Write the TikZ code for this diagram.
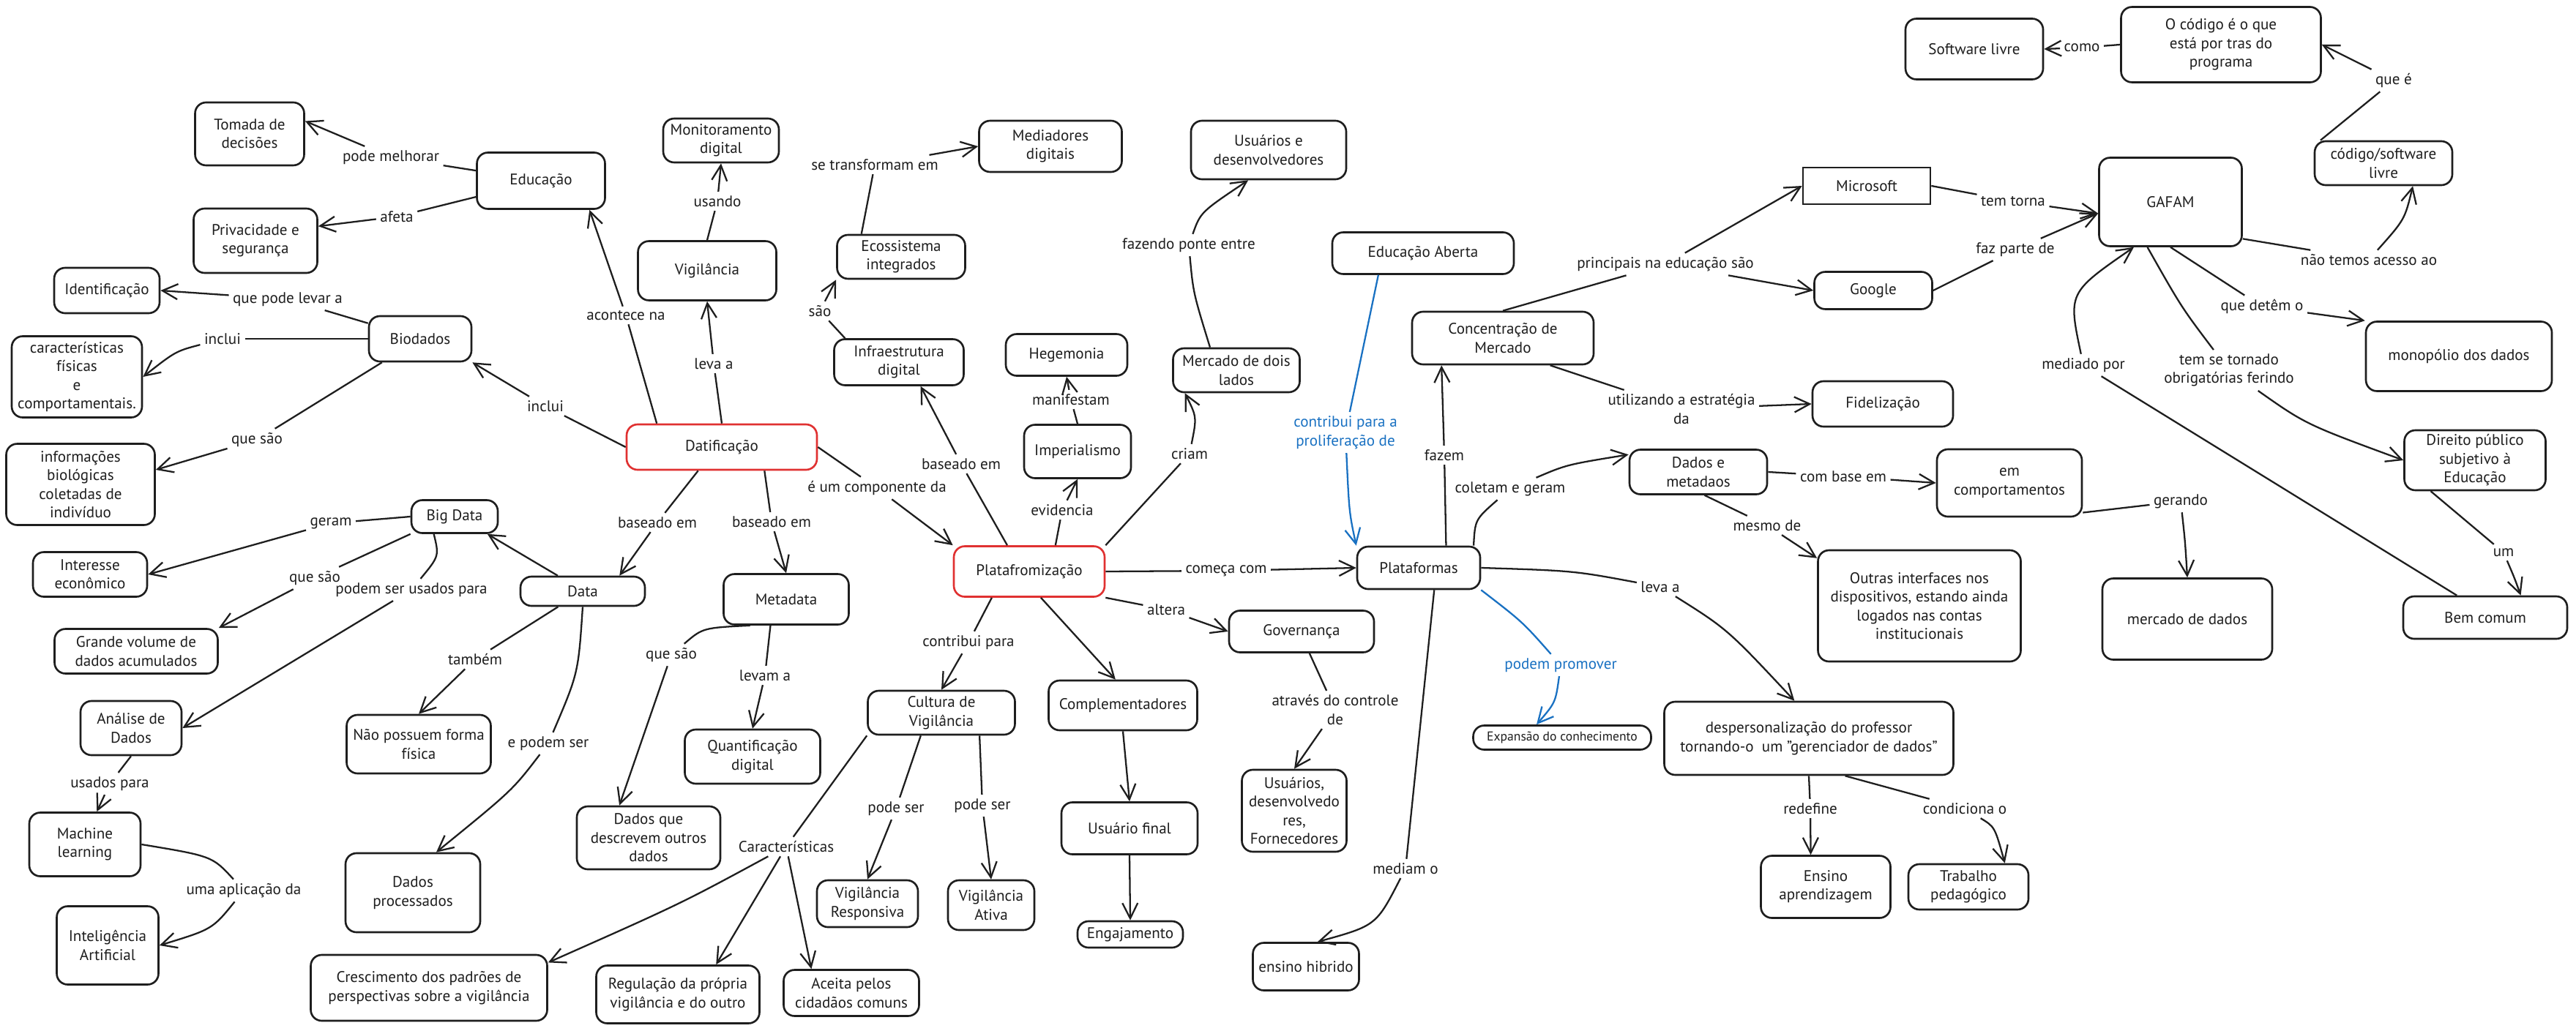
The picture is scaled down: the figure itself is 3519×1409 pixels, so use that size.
\documentclass[tikz,border=0pt]{standalone}
\usepackage{fontspec}
\setmainfont{PT Sans}
\usetikzlibrary{arrows.meta}
\definecolor{ink}{HTML}{1E1E1E}
\definecolor{redline}{HTML}{E03131}
\definecolor{blueline}{HTML}{1971C2}
\def\txt{\fontsize{12}{14.5}\selectfont}
\tikzset{
  bx/.style 2 args={draw=ink, line width=1.5pt, rounded corners=0.3cm, align=center, text=ink, font=\txt,
    minimum width=#1*0.02cm, minimum height=#2*0.02cm, inner sep=2pt},
  rbx/.style 2 args={bx={#1}{#2}, draw=redline},
  sbx/.style 2 args={bx={#1}{#2}, sharp corners},
  lb/.style={align=center, text=ink, inner sep=3pt, font=\txt},
  lbb/.style={lb, text=blueline},
  ln/.style={draw=ink, line width=1.3pt},
  ar/.style={ln, -{Straight Barb[length=4.2mm,width=4.2mm]}},
  lnb/.style={ln, draw=blueline},
  arb/.style={ar, draw=blueline}
}
\begin{document}
\begin{tikzpicture}[x=0.02cm, y=-0.02cm]
  %%%%% START %%%%%
  \path[fill=white, use as bounding box] (0,0) rectangle (3519,1409);

  % left: datificacao branch
  \node[bx={149}{86}] (tomada) at (341,183) {Tomada de\\decisões};
  \node[bx={175}{77}] (educacao) at (739,247) {Educação};
  \node[bx={169}{88}] (privacidade) at (349,329) {Privacidade e\\segurança};
  \node[bx={144}{62}] (identificacao) at (146,397) {Identificação};
  \node[bx={140}{62}] (biodados) at (574,463) {Biodados};
  \node[bx={178}{111}] (caracteristicas) at (105,515) {características\\físicas\\e\\comportamentais.};
  \node[bx={203}{111}] (informacoes) at (110,662) {informações\\biológicas\\coletadas de\\indivíduo};
  \node[bx={118}{45}] (bigdata) at (621,706) {Big Data};
  \node[bx={156}{61}] (interesse) at (123,785) {Interesse\\econômico};
  \node[bx={170}{40}] (data) at (796,808) {Data};
  \node[bx={223}{61}] (grande) at (186,890) {Grande volume de\\dados acumulados};
  \node[bx={138}{74}] (analise) at (179,995) {Análise de\\Dados};
  \node[bx={197}{80}] (naoposs) at (572,1017) {Não possuem forma\\física};
  \node[bx={152}{87}] (machine) at (116,1154) {Machine\\learning};
  \node[bx={184}{108}] (processados) at (564,1220) {Dados\\processados};
  \node[bx={139}{107}] (ia) at (147,1292) {Inteligência\\Artificial};
  \node[bx={323}{90}] (crescimento) at (586,1350) {Crescimento dos padrões de\\perspectivas sobre a vigilância};
  \node[bx={158}{60}] (monitoramento) at (985,192) {Monitoramento\\digital};
  \node[bx={195}{70}] (mediadores) at (1435,200) {Mediadores\\digitais};
  \node[bx={189}{81}] (vigilancia) at (966,370) {Vigilância};
  \node[bx={175}{60}] (ecossistema) at (1231,351) {Ecossistema\\integrados};
  \node[bx={177}{63}] (infra) at (1228,495) {Infraestrutura\\digital};
  \node[bx={166}{57}] (hegemonia) at (1457,485) {Hegemonia};
  \node[bx={146}{73}] (imperialismo) at (1472,617) {Imperialismo};
  \node[rbx={260}{62}] (datificacao) at (986,611) {Datificação};
  \node[rbx={206}{69}] (plataformizacao) at (1406,781) {Platafromização};
  \node[bx={171}{69}] (metadata) at (1074,819) {Metadata};
  \node[bx={201}{60}] (cultura) at (1286,974) {Cultura de\\Vigilância};
  \node[bx={203}{68}] (complementadores) at (1534,964) {Complementadores};
  \node[bx={185}{74}] (quantificacao) at (1028,1034) {Quantificação\\digital};
  \node[bx={196}{86}] (dadosque) at (886,1145) {Dados que\\descrevem outros\\dados};
  \node[bx={186}{71}] (usuariofinal) at (1543,1132) {Usuário final};
  \node[bx={138}{64}] (responsiva) at (1185,1235) {Vigilância\\Responsiva};
  \node[bx={118}{68}] (ativa) at (1354,1237) {Vigilância\\Ativa};
  \node[bx={144}{36}] (engajamento) at (1544,1277) {Engajamento};
  \node[bx={223}{79}] (regulacao) at (926,1359) {Regulação da própria\\vigilância e do outro};
  \node[bx={185}{63}] (aceita) at (1163,1357) {Aceita pelos\\cidadãos comuns};

  % middle: plataformas branch
  \node[bx={212}{80}] (usuariosdev) at (1733,205) {Usuários e\\desenvolvedores};
  \node[bx={173}{60}] (mercadodois) at (1689,506) {Mercado de dois\\lados};
  \node[bx={248}{57}] (educaberta) at (1944,346) {Educação Aberta};
  \node[bx={248}{72}] (concentracao) at (2053,462) {Concentração de\\Mercado};
  \node[sbx={174}{50}] (microsoft) at (2550,254) {Microsoft};
  \node[bx={161}{51}] (google) at (2559,397) {Google};
  \node[bx={192}{62}] (fidelizacao) at (2572,552) {Fidelização};
  \node[bx={188}{61}] (dadosmeta) at (2320,645) {Dados e\\metadaos};
  \node[bx={168}{58}] (plataformas) at (1938,776) {Plataformas};
  \node[bx={198}{57}] (governanca) at (1778,863) {Governança};
  \node[bx={243}{33}, font=\fontsize{10}{12}\selectfont] (expansao) at (2134,1008) {Expansão do conhecimento};
  \node[bx={143}{112}] (fornecedores) at (1768,1108) {Usuários,\\desenvolvedo\\res,\\Fornecedores};
  \node[bx={145}{65}] (hibrido) at (1784,1321) {ensino hibrido};
  \node[bx={395}{100}] (despers) at (2471,1009) {despersonalização do professor\\tornando-o\ \ um "gerenciador de dados"};
  \node[bx={177}{85}] (ensinoap) at (2494,1212) {Ensino\\aprendizagem};
  \node[bx={164}{62}] (trabalho) at (2689,1212) {Trabalho\\pedagógico};
  \node[bx={277}{152}] (outras) at (2622,828) {Outras interfaces nos\\dispositivos, estando ainda\\logados nas contas\\institucionais};
  \node[bx={198}{92}] (comportamentos) at (2745,660) {em\\comportamentos};
  \node[bx={232}{111}] (mercadodados) at (2988,846) {mercado de dados};

  % right: GAFAM branch
  \node[bx={188}{83}] (softwarelivre) at (2697,67) {Software livre};
  \node[bx={273}{103}] (codigo) at (3034,61) {O código é o que\\está por tras do\\programa};
  \node[bx={195}{121}] (gafam) at (2965,276) {GAFAM};
  \node[bx={188}{60}] (codsoft) at (3256,223) {código/software\\livre};
  \node[bx={254}{95}] (monopolio) at (3359,487) {monopólio dos dados};
  \node[bx={193}{82}] (direito) at (3381,629) {Direito público\\subjetivo à\\Educação};
  \node[bx={224}{58}] (bemcomum) at (3395,844) {Bem comum};

  % labels
  \node[lb] (l1) at (534,215) {pode melhorar};
  \node[lb] (l2) at (542,296) {afeta};
  \node[lb] (l3) at (393,409) {que pode levar a};
  \node[lb] (l4) at (304,463) {inclui};
  \node[lb] (l5) at (351,601) {que são};
  \node[lb] (l6) at (745,555) {inclui};
  \node[lb] (l7) at (855,431) {acontece na};
  \node[lb] (l8) at (452,715) {geram};
  \node[lb] (l9) at (430,790) {que são};
  \node[lb] (l10) at (562,806) {podem ser usados para};
  \node[lb] (l11) at (150,1071) {usados para};
  \node[lb] (l12) at (333,1217) {uma aplicação da};
  \node[lb] (l13) at (649,901) {também};
  \node[lb] (l14) at (749,1016) {e podem ser};
  \node[lb] (l15) at (898,714) {baseado em};
  \node[lb] (l16) at (975,497) {leva a};
  \node[lb] (l17) at (980,275) {usando};
  \node[lb] (l18) at (1054,713) {baseado em};
  \node[lb] (l19) at (1198,667) {é um componente da};
  \node[lb] (l20) at (1120,425) {são};
  \node[lb] (l21) at (1195,225) {se transformam em};
  \node[lb] (l22) at (1313,634) {baseado em};
  \node[lb] (l23) at (1451,697) {evidencia};
  \node[lb] (l24) at (1463,546) {manifestam};
  \node[lb] (l25) at (1625,620) {criam};
  \node[lb] (l26) at (1624,335) {fazendo ponte entre};
  \node[lb] (l27) at (917,895) {que são};
  \node[lb] (l28) at (1045,923) {levam a};
  \node[lb] (l29) at (1323,878) {contribui para};
  \node[lb] (l30) at (1675,780) {começa com};
  \node[lb] (l31) at (1593,833) {altera};
  \node[lb] (l32) at (1224,1105) {pode ser};
  \node[lb] (l33) at (1342,1101) {pode ser};
  \node[lb] (l34) at (1074,1157) {Características};
  \node[lbb] (l35) at (1838,591) {contribui para a\\proliferação de};
  \node[lb] (l36) at (1973,622) {fazem};
  \node[lb] (l37) at (2063,668) {coletam e geram};
  \node[lb] (l38) at (2275,361) {principais na educação são};
  \node[lb] (l39) at (2297,559) {utilizando a estratégia\\da};
  \node[lb] (l40) at (2518,651) {com base em};
  \node[lb] (l41) at (2414,718) {mesmo de};
  \node[lb] (l42) at (1824,970) {através do controle\\de};
  \node[lb] (l43) at (1920,1187) {mediam o};
  \node[lbb] (l44) at (2132,909) {podem promover};
  \node[lb] (l45) at (2268,802) {leva a};
  \node[lb] (l46) at (2473,1105) {redefine};
  \node[lb] (l47) at (2684,1105) {condiciona o};
  \node[lb] (l48) at (2844,65) {como};
  \node[lb] (l49) at (3270,110) {que é};
  \node[lb] (l50) at (2750,275) {tem torna};
  \node[lb] (l51) at (2753,341) {faz parte de};
  \node[lb] (l52) at (3236,355) {não temos acesso ao};
  \node[lb] (l53) at (3090,419) {que detêm o};
  \node[lb] (l54) at (3045,506) {tem se tornado\\obrigatórias ferindo};
  \node[lb] (l55) at (2846,499) {mediado por};
  \node[lb] (l56) at (2979,685) {gerando};
  \node[lb] (l57) at (3420,755) {um};

  % connectors, left
  \draw[ln] (educacao) -- (l1);  \draw[ar] (l1) -- (tomada.13);
  \draw[ln] (educacao) -- (l2);  \draw[ar] (l2) -- (privacidade.13);
  \draw[ln] (biodados) -- (l3);  \draw[ar] (l3) -- (identificacao.east);
  \draw[ln] (biodados.west) -- (l4);  \draw[ar] (l4) .. controls (240,480) .. (caracteristicas.east);
  \draw[ln] (biodados) -- (l5);  \draw[ar] (l5) -- (informacoes.11);
  \draw[ln] (datificacao.west) -- (l6);  \draw[ar] (l6) -- (biodados.south east);
  \draw[ln] (datificacao.160) -- (l7);  \draw[ar] (l7) -- (educacao.-31);
  \draw[ln] (bigdata.west) -- (l8);  \draw[ar] (l8) -- (interesse.east);
  \draw[ln] (bigdata.south west) -- (l9);  \draw[ar] (l9) -- (grande.north east);
  \draw[ln] (bigdata.220) .. controls (600,760) .. (l10);  \draw[ar] (l10) -- (analise.east);
  \draw[ln] (analise.south) -- (l11);  \draw[ar] (l11) -- (machine.70);
  \draw[ln] (machine.east) .. controls (290,1170) .. (l12);  \draw[ar] (l12) .. controls (290,1270) .. (ia.east);
  \draw[ln] (data) -- (l13);  \draw[ar] (l13) -- (naoposs.north);
  \draw[ln] (data.south) .. controls (790,920) .. (l14);  \draw[ar] (l14) .. controls (700,1080) .. (processados.60);
  \draw[ln] (datificacao.225) -- (l15);  \draw[ar] (l15) -- (data.23);
  \draw[ar] (data.148) -- (bigdata.-28);
  \draw[ln] (datificacao.north) -- (l16);  \draw[ar] (l16) -- (vigilancia.south);
  \draw[ln] (vigilancia.north) -- (l17);  \draw[ar] (l17) -- (monitoramento.south);
  \draw[ln] (datificacao.-29) -- (l18);  \draw[ar] (l18) -- (metadata.north);
  \draw[ln] (datificacao.east) -- (l19);  \draw[ar] (l19) -- (plataformizacao.north west);
  \draw[ln] (infra.156) -- (l20);  \draw[ar] (l20) -- (ecossistema.south west);
  \draw[ln] (ecossistema.150) -- (l21);  \draw[ar] (l21) -- (mediadores.west);
  \draw[ln] (plataformizacao.130) -- (l22);  \draw[ar] (l22) -- (infra.-48);
  \draw[ln] (plataformizacao.45) -- (l23);  \draw[ar] (l23) -- (imperialismo.south);
  \draw[ln] (imperialismo.north) -- (l24);  \draw[ar] (l24) -- (hegemonia.south);
  \draw[ln] (plataformizacao.north east) -- (l25);  \draw[ar] (l25) .. controls (1635,570) .. (mercadodois.-156);
  \draw[ln] (mercadodois.139) .. controls (1630,400) .. (l26);  \draw[ar] (l26) .. controls (1640,290) .. (usuariosdev.-124);
  \draw[ln] (metadata.-144) .. controls (960,858) .. (l27);  \draw[ar] (l27) -- (dadosque.132);
  \draw[ln] (metadata.-121) -- (l28);  \draw[ar] (l28) -- (quantificacao.north);
  \draw[ln] (plataformizacao.-145) -- (l29);  \draw[ar] (l29) -- (cultura.north);
  \draw[ar] (plataformizacao.-66) -- (complementadores.106);
  \draw[ln] (plataformizacao.east) -- (l30);  \draw[ar] (l30) -- (plataformas.west);
  \draw[ln] (plataformizacao.south east) -- (l31);  \draw[ar] (l31) -- (governanca.west);
  \draw[ar] (complementadores.south) -- (usuariofinal.north);
  \draw[ar] (usuariofinal.south) -- (engajamento.north);
  \draw[ln] (cultura.-132) -- (l32);  \draw[ar] (l32) -- (responsiva.north);
  \draw[ln] (cultura.-31) -- (l33);  \draw[ar] (l33) -- (ativa.north);
  \draw[ln] (cultura.south west) -- (l34);
  \draw[ar] (l34) .. controls (930,1235) .. (crescimento.12);
  \draw[ar] (l34) -- (regulacao.38);
  \draw[ar] (l34) -- (aceita.149);

  % connectors, middle
  \draw[lnb] (educaberta.-154) -- (l35);  \draw[arb] (l35) .. controls (1843,700) .. (plataformas.north west);
  \draw[ln] (plataformas.39) -- (l36);  \draw[ar] (l36) -- (concentracao.-156);
  \draw[ln] (plataformas.22) .. controls (2015,710) .. (l37);  \draw[ar] (l37) .. controls (2140,635) .. (dadosmeta.166);
  \draw[ln] (concentracao.north) -- (l38);
  \draw[ar] (l38) -- (microsoft.west);
  \draw[ar] (l38) -- (google.west);
  \draw[ln] (concentracao.-30) -- (l39);  \draw[ar] (l39) -- (fidelizacao.west);
  \draw[ln] (dadosmeta.east) -- (l40);  \draw[ar] (l40) -- (comportamentos.west);
  \draw[ln] (dadosmeta.-75) -- (l41);  \draw[ar] (l41) -- (outras.155);
  \draw[ln] (governanca.-70) -- (l42);  \draw[ar] (l42) -- (fornecedores.north);
  \draw[ln] (plataformas.-55) -- (l43);  \draw[ar] (l43) .. controls (1880,1265) .. (hibrido.65);
  \draw[lnb] (plataformas.south east) .. controls (2080,850) .. (l44);  \draw[arb] (l44) .. controls (2125,960) .. (expansao.153);
  \draw[ln] (plataformas.east) .. controls (2150,780) .. (l45);  \draw[ar] (l45) .. controls (2360,860) .. (despers.111);
  \draw[ln] (despers.south) -- (l46);  \draw[ar] (l46) -- (ensinoap.115);
  \draw[ln] (despers.-46) -- (l47);  \draw[ar] (l47) .. controls (2725,1130) .. (trabalho.33);

  % connectors, right
  \draw[ln] (codigo.west) -- (l48);  \draw[ar] (l48) -- (softwarelivre.east);
  \draw[ln] (codsoft.160) -- (l49);  \draw[ar] (l49) -- (codigo.east);
  \draw[ln] (microsoft.east) -- (l50);  \draw[ar] (l50) -- (gafam.-171);
  \draw[ln] (google.east) -- (l51);  \draw[ar] (l51) -- (gafam.-171);
  \draw[ln] (gafam.-27) -- (l52);  \draw[ar] (l52) .. controls (3285,300) .. (codsoft.-38);
  \draw[ln] (gafam.south) -- (l53);  \draw[ar] (l53) -- (monopolio.north west);
  \draw[ln] (gafam.-117) .. controls (2980,420) .. (l54);  \draw[ar] (l54) .. controls (3150,580) .. (direito.west);
  \draw[ln] (bemcomum.142) -- (l55);  \draw[ar] (l55) .. controls (2825,400) .. (gafam.-129);
  \draw[ln] (comportamentos.-22) -- (l56);  \draw[ar] (l56) .. controls (2985,740) .. (mercadodados.north);
  \draw[ln] (direito.-145) -- (l57);  \draw[ar] (l57) .. controls (3435,790) .. (bemcomum.32);
  %%%%% END %%%%%
\end{tikzpicture}
\end{document}
